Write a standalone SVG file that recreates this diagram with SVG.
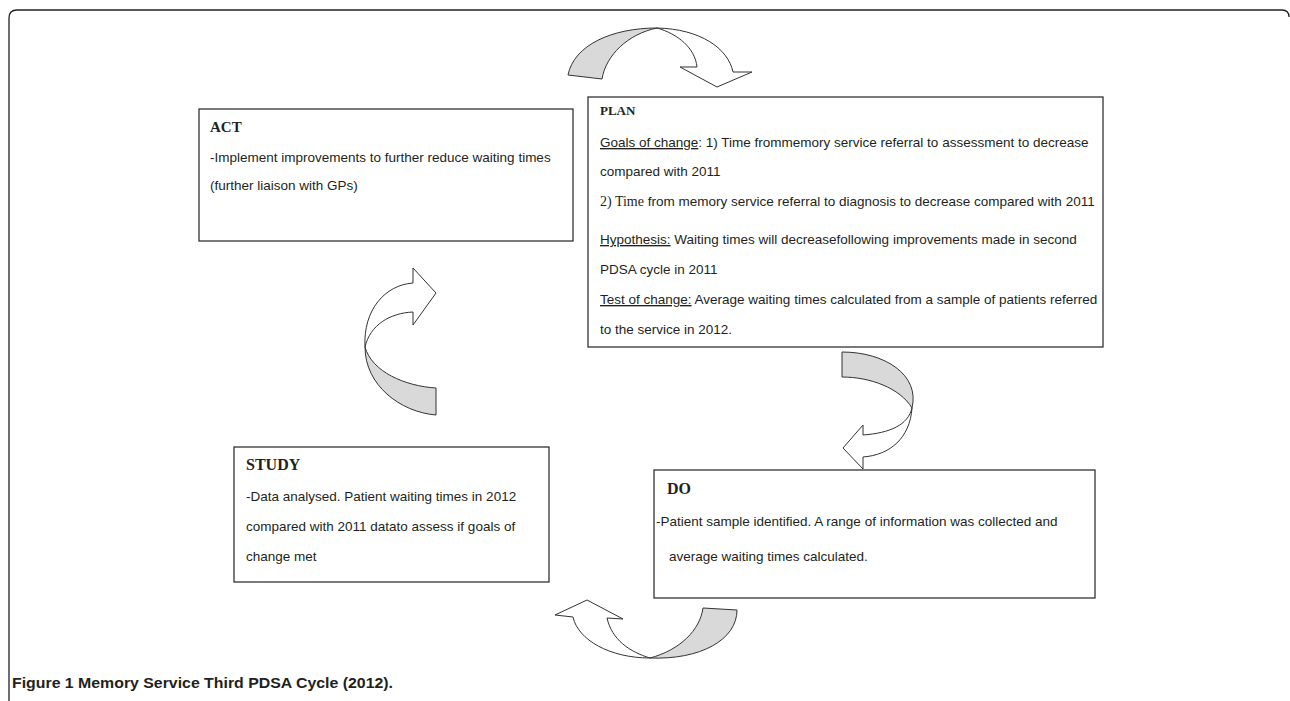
<svg xmlns="http://www.w3.org/2000/svg" width="1290" height="701" viewBox="0 0 1290 701">
<style>
.box{fill:#fff;stroke:#333;stroke-width:1.3}
.t{font-family:"Liberation Sans",Arial,sans-serif;font-size:13.5px;fill:#231f20}
.h{font-family:"Liberation Serif","Times New Roman",serif;font-weight:bold;fill:#231f20}
.u{text-decoration:underline}
.ser{font-family:"Liberation Serif","Times New Roman",serif;font-size:14px}
.g{fill:#d9d9d9;stroke:#333;stroke-width:1}
.w{fill:#fff;stroke:#333;stroke-width:1}
.cap{font-family:"Liberation Sans",Arial,sans-serif;font-weight:bold;font-size:14px;fill:#231f20}
</style>
<rect width="1290" height="701" fill="#fff"/>
<path d="M9,701 V18 Q9,10 17,10 H1282 Q1289,10 1289,17" fill="none" stroke="#222" stroke-width="1.3"/>

<g id="connectors">
  <g id="arrow-act-plan">
    <path class="g" d="M568,75 C574,45 612,28 657,28 C628,34 606,55 602,79 Z"/>
    <path class="w" d="M657,28 C700,29 728,48 733,72 L752,72 L717,87 L680,67 L697,67 C695,48 678,34 657,28 Z"/>
  </g>
  <g id="arrow-plan-do">
    <path class="g" d="M842,352 C885,352 920,375 912,408 C900,388 870,377 842,377 Z"/>
    <path class="w" d="M912,408 C908,425 890,433 863,435 L863,425 L843,448 L863,469 L863,457 C890,455 910,438 912,408 Z"/>
  </g>
  <g id="arrow-do-study">
    <path class="g" d="M703,608 L737,610 C737,640 700,660 650,658 C680,650 700,630 703,608 Z"/>
    <path class="w" d="M650,658 C610,658 578,640 573,617 L555,615 L587,600 L623,619 L607,618 C612,640 630,652 650,658 Z"/>
  </g>
  <g id="arrow-study-act">
    <path class="g" d="M365,347 C365,385 400,412 436,415 L436,388 C405,386 372,372 365,347 Z"/>
    <path class="w" d="M365,347 C363,310 385,285 413,283 L413,268 L436,293 L413,325 L413,312 C390,313 370,325 365,347 Z"/>
  </g>
</g>

<g id="node-act">
  <rect class="box" x="199" y="109" width="374" height="132"/>
  <text class="h" x="210" y="132" font-size="15">ACT</text>
  <text class="t" x="210" y="162">-Implement improvements to further reduce waiting times</text>
  <text class="t" x="210" y="190">(further liaison with GPs)</text>
</g>

<g id="node-plan">
  <rect class="box" x="588" y="97" width="515" height="250"/>
  <text class="h" x="600" y="115" font-size="13">PLAN</text>
  <text class="t" x="600" y="147"><tspan class="u">Goals of change</tspan>: 1) Time frommemory service referral to assessment to decrease</text>
  <text class="t" x="600" y="176">compared with 2011</text>
  <text class="t" x="600" y="206"><tspan class="ser">2) Time</tspan> from memory service referral to diagnosis to decrease compared with 2011</text>
  <text class="t" x="600" y="244"><tspan class="u">Hypothesis:</tspan> Waiting times will decreasefollowing improvements made in second</text>
  <text class="t" x="600" y="274">PDSA cycle in 2011</text>
  <text class="t" x="600" y="304"><tspan class="u">Test of change:</tspan> Average waiting times calculated from a sample of patients referred</text>
  <text class="t" x="600" y="334">to the service in 2012.</text>
</g>

<g id="node-study">
  <rect class="box" x="234" y="447" width="315" height="135"/>
  <text class="h" x="246" y="470" font-size="16">STUDY</text>
  <text class="t" x="246" y="501">-Data analysed. Patient waiting times in 2012</text>
  <text class="t" x="246" y="531">compared with 2011 datato assess if goals of</text>
  <text class="t" x="246" y="561">change met</text>
</g>

<g id="node-do">
  <rect class="box" x="654" y="470" width="441" height="128"/>
  <text class="h" x="667" y="494" font-size="16">DO</text>
  <text class="t" x="656" y="526">-Patient sample identified. A range of information was collected  and</text>
  <text class="t" x="669" y="561">average waiting times calculated.</text>
</g>

<text class="cap" x="12" y="688" textLength="381" lengthAdjust="spacingAndGlyphs">Figure 1 Memory Service Third PDSA Cycle (2012).</text>
</svg>
